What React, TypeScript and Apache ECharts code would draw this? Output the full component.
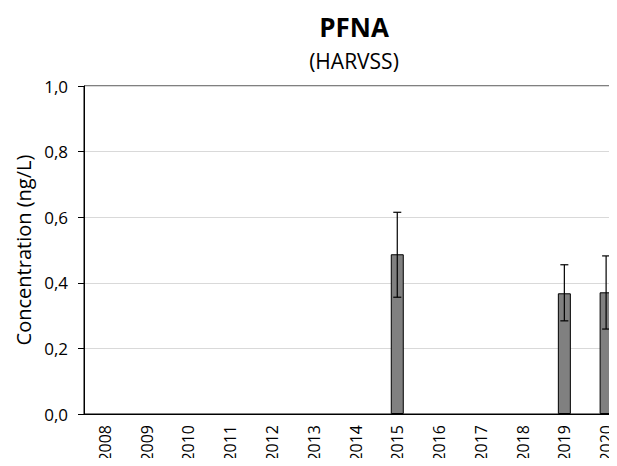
import React, { useEffect, useRef } from "react";
import * as echarts from "echarts";

const years = ["2008", "2009", "2010", "2011", "2012", "2013", "2014", "2015", "2016", "2017", "2018", "2019", "2020"];
const values: (number | null)[] = [null, null, null, null, null, null, null, 0.487, null, null, null, 0.368, 0.371];
const errLow: (number | null)[] = [null, null, null, null, null, null, null, 0.356, null, null, null, 0.284, 0.259];
const errHigh: (number | null)[] = [null, null, null, null, null, null, null, 0.615, null, null, null, 0.455, 0.482];
const yTicks = [0, 0.2, 0.4, 0.6, 0.8, 1.0];

const FONT = "'Open Sans', 'Liberation Sans', sans-serif";

export default function App() {
  const ref = useRef<HTMLDivElement>(null);
  useEffect(() => {
    if (!ref.current) return;
    const chart = echarts.init(ref.current, null, { renderer: "svg" });
    const errData = years
      .map((_, i) => (errLow[i] != null && errHigh[i] != null ? [i, errLow[i], errHigh[i]] : null))
      .filter((d) => d != null);
    chart.setOption({
      animation: false,
      backgroundColor: "#ffffff",
      title: [
        {
          text: "PFNA",
          left: 349,
          textAlign: "center",
          top: 9,
          textStyle: { fontFamily: FONT, fontSize: 26, fontWeight: "bold", color: "#000" },
        },
        {
          text: "(HARVSS)",
          left: 349,
          textAlign: "center",
          top: 45,
          textStyle: { fontFamily: FONT, fontSize: 21, fontWeight: "normal", color: "#000" },
        },
      ],
      grid: {
        left: 84,
        right: -10,
        top: 86,
        bottom: 52,
        outerBoundsMode: "none",
        containLabel: false,
        show: true,
        borderColor: "#000",
        borderWidth: 1,
        backgroundColor: "transparent",
      },
      xAxis: {
        type: "category",
        data: years,
        boundaryGap: true,
        axisLine: { lineStyle: { color: "#000", width: 1 } },
        axisTick: { alignWithLabel: true, length: 4, lineStyle: { color: "#000" } },
        axisLabel: { rotate: 90, fontFamily: FONT, fontSize: 16, color: "#000", margin: 11 },
      },
      yAxis: {
        type: "value",
        min: 0,
        max: 1,
        interval: 0.2,
        name: "Concentration (ng/L)",
        nameLocation: "middle",
        nameGap: 49,
        nameTextStyle: { fontFamily: FONT, fontSize: 20, color: "#000" },
        axisLine: { show: true, lineStyle: { color: "#000", width: 1 } },
        axisTick: { show: true, length: 6, lineStyle: { color: "#000" } },
        splitLine: { show: true, lineStyle: { color: "#d9d9d9", width: 1 } },
        axisLabel: {
          fontFamily: FONT,
          fontSize: 17,
          color: "#000",
          margin: 16,
          formatter: (v: number) => (yTicks.indexOf(v) >= 0 ? v.toFixed(1).replace(".", ",") : ""),
        },
      },
      series: [
        {
          type: "bar",
          data: values.map((v) => (v == null ? "-" : v)),
          barWidth: 13,
          itemStyle: { color: "#808080", borderColor: "#000", borderWidth: 1 },
        },
        {
          type: "custom",
          data: errData,
          z: 5,
          renderItem: (params: any, api: any) => {
            const idx = api.value(0);
            const lo = api.coord([idx, api.value(1)]);
            const hi = api.coord([idx, api.value(2)]);
            const half = 4;
            const style = { stroke: "#000", lineWidth: 1.2 };
            return {
              type: "group",
              children: [
                { type: "line", shape: { x1: lo[0], y1: lo[1], x2: hi[0], y2: hi[1] }, style },
                { type: "line", shape: { x1: hi[0] - half, y1: hi[1], x2: hi[0] + half, y2: hi[1] }, style },
                { type: "line", shape: { x1: lo[0] - half, y1: lo[1], x2: lo[0] + half, y2: lo[1] }, style },
              ],
            };
          },
        },
      ],
    });
    return () => chart.dispose();
  }, []);
  return <div ref={ref} style={{ width: 617, height: 466, margin: -8 }} />;
}
